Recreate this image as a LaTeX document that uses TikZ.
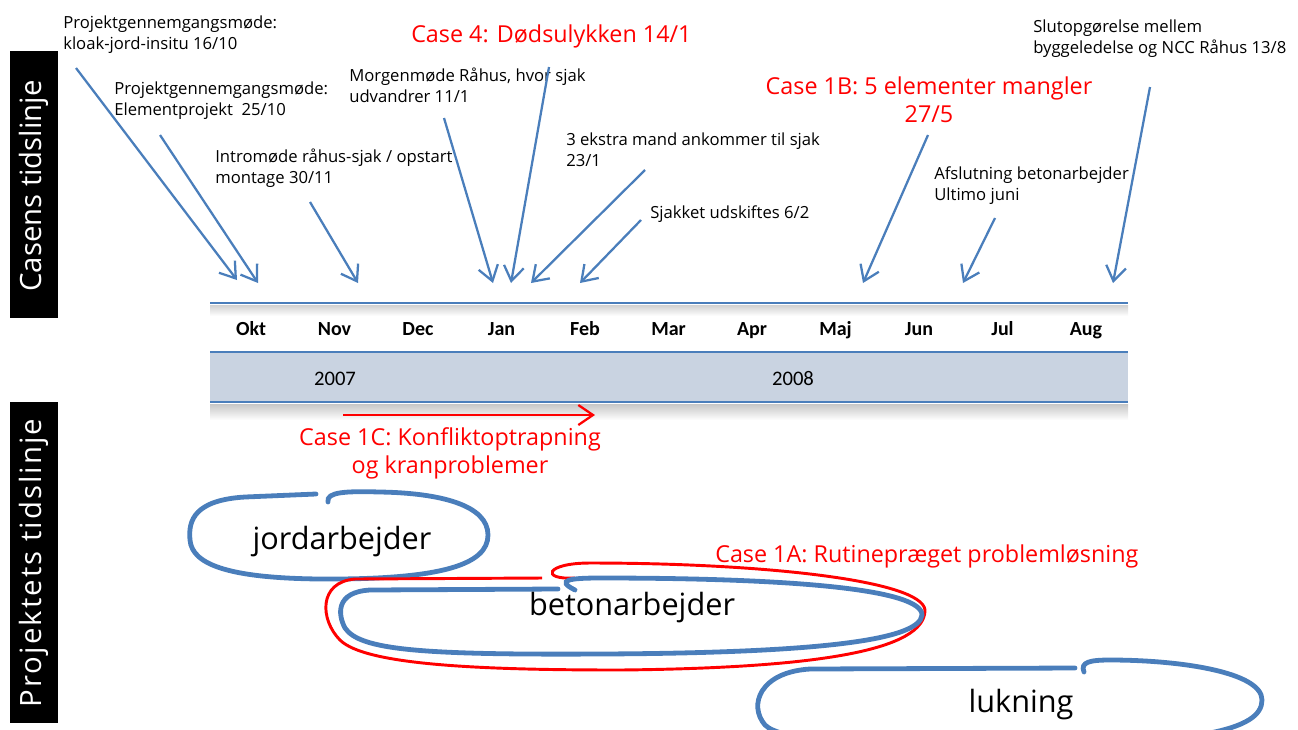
\documentclass[tikz,border=0pt]{standalone}
\usepackage{fontspec}
\setmainfont{Open Sans}
\newfontfamily\calibri{Carlito}
\usetikzlibrary{arrows.meta}

\definecolor{officeblue}{HTML}{4A7EBB}
\definecolor{bandgray}{HTML}{C9D3E1}
\definecolor{casered}{HTML}{FF0000}

\begin{document}
\begin{tikzpicture}[x = 0.75pt, y = -0.75pt]
	\tikzstyle{every node}=[inner sep = 0pt]
	\tikzset{note/.style = {anchor = base west, align = left, font = \fontsize{12.5}{15.75}\selectfont}}
	\tikzset{case/.style = {text = casered, font = \fontsize{17.5}{20.5}\selectfont}}
	\tikzset{event/.style = {draw = officeblue, line width = 1.7pt, -{Straight Barb[length = 11pt, width = 15pt]}}}
	\tikzset{phase/.style = {draw = officeblue, line width = 3.6pt, line cap = round}}
	\tikzset{month/.style = {anchor = base, font = \calibri\bfseries\fontsize{15}{18}\selectfont}}
	\tikzset{bar/.style = {fill = black, text = white, rotate = 90, minimum height = 48*0.75pt, font = \fontsize{22}{26}\selectfont}}

\useasboundingbox (0,0) rectangle (1298,729);

%% Side labels
\fill (10,51) rectangle (58,318);
\node[bar, text = white] (casens) at (34,186) {Casens tidslinje};
\fill (10,402) rectangle (58,723);
\node[bar, text = white] (projekt) at (34,563) {\addfontfeatures{LetterSpace = 7}Projektets tidslinje};

%% Timeline
\shade[top color = black!18, bottom color = white] (210,305) rectangle (1128,316);
\fill[bandgray] (210,352) rectangle (1128,402);
\shade[top color = black!22, bottom color = white] (210,404) rectangle (1128,420);
\foreach \y in {303, 352, 402}
	\draw[officeblue, line width = 2.2pt] (210,\y) -- (1128,\y);

\foreach \m [count = \i from 0] in {Okt, Nov, Dec, Jan, Feb, Mar, Apr, Maj, Jun, Jul, Aug}
	\node[month] (month\i) at (251+83.5*\i, 335) {\m};

\node[anchor = base, font = \calibri\fontsize{15.5}{18}\selectfont] (y2007) at (335,385) {2007};
\node[anchor = base, font = \calibri\fontsize{15.5}{18}\selectfont] (y2008) at (793,385) {2008};

%% Events (base = last line)
\draw (63,49) node[note, name = kloak]{Projektgennemgangsmøde:\\kloak-jord-insitu 16/10};
\draw (114,115) node[note, name = element]{Projektgennemgangsmøde:\\Elementprojekt~ 25/10};
\draw (215,183) node[note, name = intro]{Intromøde råhus-sjak / opstart\\montage 30/11};
\draw (349,102) node[note, name = morgen]{Morgenmøde Råhus, hvor sjak\\udvandrer 11/1};
\draw (566,166) node[note, name = ekstra]{3 ekstra mand ankommer til sjak\\23/1};
\draw (650,218) node[note, name = sjak]{Sjakket udskiftes 6/2};
\draw (934,200) node[note, name = afslut]{Afslutning betonarbejder\\Ultimo juni};
\draw (1033,53) node[note, name = slut]{Slutopgørelse mellem\\byggeledelse og NCC Råhus 13/8};

\draw (411,42) node[case, anchor = base west, name = case4]{Case 4: Dødsulykken 14/1};
\draw (929,122) node[case, anchor = base, align = center, name = case1b]{Case 1B: 5 elementer mangler\\27/5};

%% Arrows to the timeline
\foreach \name/\sx/\sy/\ex/\ey in {kloak/76/68/237/280, element/160/135/258/283, intro/310/202/358/283,
		morgen/444/118/493/283, case4/549/67/511/283, ekstra/645/170/531/283, sjak/641/220/580/283,
		case1b/928/135/863/283, afslut/995/218/963/283, slut/1150/87/1113/283} {
	\coordinate (\name from) at (\sx,\sy);
	\coordinate (\name to) at (\ex,\ey);
	\draw[event] (\name from) -- (\name to);
}

%% Project phases
\coordinate (konflikt from) at (343,415);
\coordinate (konflikt to) at (595,415);
\draw[event, draw = casered] (konflikt from) -- (konflikt to);
\draw (450,473) node[case, anchor = base, align = center, name = case1c]{Case 1C: Konfliktoptrapning\\og kranproblemer};

\draw[phase] (316,494) -- (245,497) .. controls (195,500) and (188,520) .. (190,540) .. controls (192,565) and (230,580) .. (340,579) .. controls (440,578) and (488,565) .. (488,535) .. controls (488,505) and (440,493) .. (380,492) .. controls (345,491) and (326,492) .. (328,502);
\draw (342,549) node[anchor = base, font = \fontsize{23}{26}\selectfont, name = jord]{jordarbejder};

\draw[casered, line width = 2.2pt] (542,578) -- (355,579) .. controls (318,582) and (320,620) .. (340,640) .. controls (365,665) and (480,670) .. (620,670) .. controls (820,668) and (925,650) .. (925,610) .. controls (922,580) and (760,563) .. (590,563) .. controls (545,563) and (540,580) .. (575,578);
\draw[phase] (558,589) -- (370,590) .. controls (335,592) and (338,615) .. (345,628) .. controls (360,650) and (420,655) .. (600,654) .. controls (820,653) and (920,640) .. (922,615) .. controls (922,590) and (800,578) .. (600,578) .. controls (570,578) and (555,580) .. (575,590);
\draw (632,615) node[anchor = base, font = \fontsize{23}{26}\selectfont, name = beton]{betonarbejder};
\draw (715,562) node[case, anchor = base west, name = case1a]{Case 1A: Rutinepræget problemløsning};

\draw[phase] (1075,668) -- (810,669) .. controls (760,672) and (748,705) .. (765,725) .. controls (780,740) and (850,745) .. (1000,745) .. controls (1200,745) and (1262,730) .. (1262,700) .. controls (1262,672) and (1180,660) .. (1110,660) .. controls (1090,660) and (1080,662) .. (1084,672);
\draw (1021,712) node[anchor = base, font = \fontsize{23}{26}\selectfont, name = lukning]{lukning};

\end{tikzpicture}
\end{document}
